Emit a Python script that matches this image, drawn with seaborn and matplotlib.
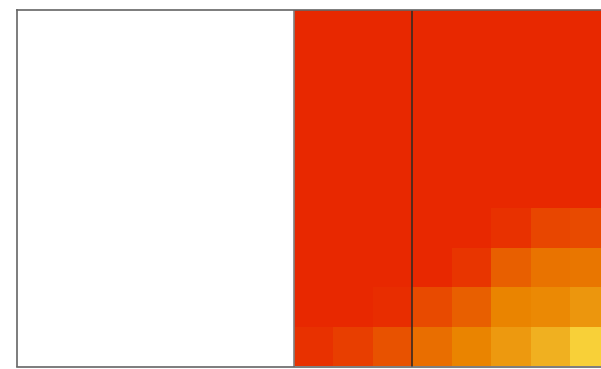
import numpy as np
import pandas as pd
import matplotlib
matplotlib.use("Agg")
import matplotlib.pyplot as plt
from matplotlib.colors import LinearSegmentedColormap
import seaborn as sns

# Heatmap values (0 = red, 1 = yellow), rows listed top to bottom
row_labels = ["r8", "r7", "r6", "r5", "r4", "r3", "r2", "r1", "r0"]
col_labels = ["c0", "c1", "c2", "c3", "c4", "c5", "c6", "c7"]
row8 = [0, 0, 0, 0, 0, 0, 0, 0]
row7 = [0, 0, 0, 0, 0, 0, 0, 0]
row6 = [0, 0, 0, 0, 0, 0, 0, 0]
row5 = [0, 0, 0, 0, 0, 0, 0, 0]
row4 = [0, 0, 0, 0, 0, 0, 0, 0]
row3 = [0, 0, 0, 0, 0, 0.05, 0.15, 0.17]
row2 = [0, 0, 0, 0, 0.07, 0.28, 0.40, 0.42]
row1 = [0, 0, 0.03, 0.17, 0.28, 0.50, 0.53, 0.60]
row0 = [0.05, 0.11, 0.21, 0.37, 0.50, 0.62, 0.75, 1.00]

# x positions of the empty left part and the two vertical rules
x_min, x_max = -7, 8
edge_x = 0
rule_x = 3

grid = pd.DataFrame([row8, row7, row6, row5, row4, row3, row2, row1, row0],
                    index=row_labels, columns=col_labels)

cmap = LinearSegmentedColormap.from_list(
    "redyellow", ["#e82800", "#e85a00", "#ea8400", "#f0b020", "#f8d038"])

sns.set_theme(style="white")

fig = plt.figure(figsize=(6.01, 3.69), dpi=100)
ax = fig.add_axes([17 / 601, 2.5 / 369, (609.5 - 17) / 601, 356.5 / 369])

sns.heatmap(grid, ax=ax, cmap=cmap, vmin=0, vmax=1, cbar=False,
            xticklabels=False, yticklabels=False, linewidths=0)

ax.set_xlim(x_min, x_max)
ax.axvline(edge_x, color="#808080", linewidth=1.2)
ax.axvline(rule_x, color="#3a2a20", linewidth=1.2)

for side in ["left", "top", "bottom", "right"]:
    ax.spines[side].set_visible(True)
    ax.spines[side].set_color("#666666")
    ax.spines[side].set_linewidth(1.2)

ax.set_xlabel("")
ax.set_ylabel("")

plt.savefig("out.png", dpi=100)
plt.close()
